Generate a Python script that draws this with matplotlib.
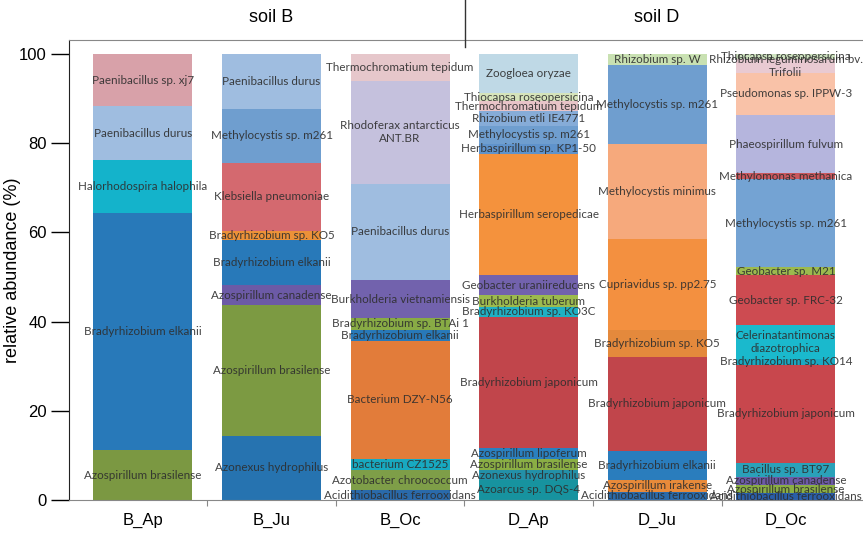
import matplotlib
matplotlib.use("Agg")
from matplotlib import pyplot as plt
from matplotlib.lines import Line2D

samples = ["B_Ap", "B_Ju", "B_Oc", "D_Ap", "D_Ju", "D_Oc"]

# taxa and abundances, bottom -> top
b_ap_taxa = ["Azospirillum brasilense", "Bradyrhizobium elkanii", "Halorhodospira halophila",
             "Paenibacillus durus", "Paenibacillus sp. xj7"]
b_ap_vals = [11.2, 53.2, 11.9, 11.9, 11.8]

b_ju_taxa = ["Azonexus hydrophilus", "Azospirillum brasilense", "Azospirillum canadense",
             "Bradyrhizobium elkanii", "Bradyrhizobium sp. KO5", "Klebsiella pneumoniae",
             "Methylocystis sp. m261", "Paenibacillus durus"]
b_ju_vals = [14.4, 29.3, 4.4, 10.1, 2.2, 15.1, 12.2, 12.3]

b_oc_taxa = ["Acidithiobacillus ferrooxidans", "Azotobacter chroococcum", "bacterium CZ1525",
             "Bacterium DZY-N56", "Bradyrhizobium elkanii", "Bradyrhizobium sp. BTAi 1",
             "Burkholderia vietnamiensis", "Paenibacillus durus",
             "Rhodoferax antarcticus\nANT.BR", "Thermochromatium tepidum"]
b_oc_vals = [2.2, 4.5, 2.6, 26.3, 2.6, 2.5, 8.6, 21.6, 23.0, 6.1]

d_ap_taxa = ["Azoarcus sp. DQS-4", "Azonexus hydrophilus", "Azospirillum brasilense",
             "Azospirillum lipoferum", "Bradyrhizobium japonicum", "Bradyrhizobium sp. KO3C",
             "Burkholderia tuberum", "Geobacter uraniireducens", "Herbaspirillum seropedicae",
             "Herbaspirillum sp. KP1-50", "Methylocystis sp. m261", "Rhizobium etli IE4771",
             "Thermochromatium tepidum", "Thiocapsa roseopersicina", "Zoogloea oryzae"]
d_ap_vals = [4.5, 2.2, 2.6, 2.3, 29.4, 2.3, 2.6, 4.5, 27.2, 2.2, 4.1, 3.2, 2.3, 1.8, 8.8]

d_ju_taxa = ["Acidithiobacillus ferrooxidans", "Azospirillum irakense", "Bradyrhizobium elkanii",
             "Bradyrhizobium japonicum", "Bradyrhizobium sp. KO5", "Cupriavidus sp. pp2.75",
             "Methylocystis minimus", "Methylocystis sp. m261", "Rhizobium sp. W"]
d_ju_vals = [1.9, 2.6, 6.5, 21.1, 6.1, 20.2, 21.3, 17.7, 2.6]

d_oc_taxa = ["Acidithiobacillus ferrooxidans", "Azospirillum brasilense", "Azospirillum canadense",
             "Bacillus sp. BT97", "Bradyrhizobium japonicum", "Bradyrhizobium sp. KO14",
             "Celerinatantimonas\ndiazotrophica", "Geobacter sp. FRC-32", "Geobacter sp. M21",
             "Methylocystis sp. m261", "Methylomonas methanica", "Phaeospirillum fulvum",
             "Pseudomonas sp. IPPW-3", "Rhizobium leguminosarum bv.\nTrifolii",
             "Thiocapsa roseopersicina"]
d_oc_vals = [1.5, 1.9, 1.8, 3.2, 21.8, 1.5, 7.5, 11.2, 1.8, 19.7, 1.3, 13.0, 9.6, 3.0, 1.2]

# segment colours, same order
b_ap_cols = ["#7b9842", "#2879b9", "#14b3cb", "#9fbde0", "#d8a1a9"]
b_ju_cols = ["#2673b0", "#7c9a42", "#6c5aa6", "#2879b9", "#ec9138", "#d4696f", "#6f9ecf", "#9fbde0"]
b_oc_cols = ["#2a6aaa", "#7e9e48", "#18a9c0", "#e27c3a", "#2879b9", "#88ab45", "#7262ad",
             "#9fbde0", "#c5c1dd", "#e6c7cb"]
d_ap_cols = ["#17939f", "#2390a8", "#8aae44", "#2a80c0", "#c1454b", "#1fb0c4", "#9cba4e",
             "#7262ad", "#f4923d", "#5f93cc", "#6f9ecf", "#86acd8", "#e8c4c8", "#d6e4bb", "#bfd9e6"]
d_ju_cols = ["#2a6aaa", "#e88a3a", "#2a7dbd", "#c1454b", "#e4893c", "#f39040", "#f6a97c",
             "#6f9ecf", "#c9e1b2"]
d_oc_cols = ["#2a5ea8", "#8aae44", "#6c5aa6", "#2aa1b9", "#c8474d", "#1aa9c2", "#1ab9cd",
             "#cd4b51", "#9cba4e", "#74a3d3", "#c9575d", "#b5b5dd", "#f9c2a8", "#e9cad2", "#cfe4c0"]

taxa = [b_ap_taxa, b_ju_taxa, b_oc_taxa, d_ap_taxa, d_ju_taxa, d_oc_taxa]
vals = [b_ap_vals, b_ju_vals, b_oc_vals, d_ap_vals, d_ju_vals, d_oc_vals]
cols = [b_ap_cols, b_ju_cols, b_oc_cols, d_ap_cols, d_ju_cols, d_oc_cols]

plt.rcParams['font.family'] = ['Liberation Sans', 'DejaVu Sans']

fig = plt.figure(figsize=(8.63, 5.34), dpi=100)
ax = fig.add_axes([69 / 863, 34 / 534, 793 / 863, 460 / 534])

for i in range(len(samples)):
    bottom = 0
    for name, v, c in zip(taxa[i], vals[i], cols[i]):
        ax.bar(i, v, bottom=bottom, width=0.77, color=c, linewidth=0)
        ax.text(i, bottom + v / 2, name, ha='center', va='center', fontsize=8.4,
                family=['Lato', 'DejaVu Sans'], color='#2e2e2e', alpha=0.9,
                linespacing=1.25)
        bottom += v

ax.set_xlim(-0.575, 5.592)
ax.set_ylim(0, 103.1)
ax.set_yticks([0, 20, 40, 60, 80, 100])
ax.set_xticks(range(len(samples)))
ax.set_xticklabels(samples)
ax.set_xticks([0.5, 1.5, 2.5, 3.5, 4.5], minor=True)
ax.tick_params(axis='y', direction='out', length=13, width=1, labelsize=12, pad=3)
ax.tick_params(axis='x', which='major', length=0, labelsize=12, pad=9)
ax.tick_params(axis='x', which='minor', length=4, width=0.8, color='#888888')
ax.set_ylabel("relative abundance (%)", fontsize=13)
ax.yaxis.set_label_coords(-48 / 793, 0.5)

ax.spines['right'].set_visible(False)
ax.spines['top'].set_color('#888888')
ax.spines['bottom'].set_color('#888888')
ax.spines['left'].set_color('#222222')

fig.text(271 / 863, 1 - 18 / 534, "soil B", ha='center', va='center', fontsize=13)
fig.text(657 / 863, 1 - 18 / 534, "soil D", ha='center', va='center', fontsize=13)
fig.add_artist(Line2D([465 / 863, 465 / 863], [1 - 47 / 534, 1.0], color='#333333', lw=1,
                      transform=fig.transFigure))

plt.savefig("out.png", dpi=100)
